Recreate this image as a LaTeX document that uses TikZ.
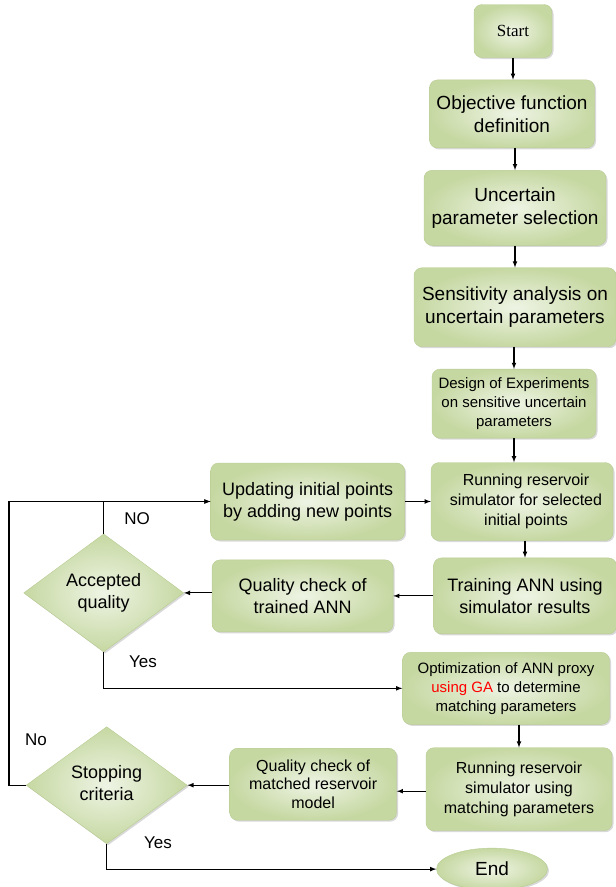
\documentclass[tikz,border=0pt]{standalone}
\usepackage{fontspec}
\setmainfont{Liberation Sans}
\newfontfamily\timesfont{Liberation Serif}
\usepackage{xcolor}
\usepackage{tikz}
\usetikzlibrary{shapes,arrows,positioning,shadows}

\definecolor{boxgreen}{RGB}{198,216,162}
\definecolor{boxlight}{RGB}{238,244,228}
\definecolor{boxline}{RGB}{184,204,146}

\newcommand{\bigtext}{\fontsize{19}{23}\selectfont}
\newcommand{\boxtext}{\fontsize{18}{22}\selectfont}
\newcommand{\midtext}{\fontsize{16}{20}\selectfont}
\newcommand{\smalltext}{\fontsize{15}{19}\selectfont}
\newcommand{\liftedtext}[1]{\raisebox{8pt}{\begin{tabular}{@{}c@{}}#1\end{tabular}}}

\begin{document}
\begin{tikzpicture}[x=1pt,y=-1pt,
		procbox/.style={rectangle, rounded corners=8pt, draw=boxline, inner color=boxlight, outer color=boxgreen, align=center, inner sep=2pt, drop shadow={shadow xshift=1.5pt, shadow yshift=-1.5pt, opacity=0.3}},
		decision/.style={diamond, aspect=1.4, draw=boxline, inner color=boxlight, outer color=boxgreen, align=center, inner sep=0pt, drop shadow={shadow xshift=1.5pt, shadow yshift=-1.5pt, opacity=0.3}},
		terminal/.style={ellipse, draw=boxline, inner color=boxlight, outer color=boxgreen, align=center, inner sep=0pt, drop shadow={shadow xshift=1.5pt, shadow yshift=-1.5pt, opacity=0.3}},
		arr/.style={-latex, line width=1.1pt},
		lbl/.style={font=\fontsize{17}{20}\selectfont}]
				\useasboundingbox (0,0) rectangle (616,887);
				
				% main column
				\node[procbox, minimum width=78pt, minimum height=53pt, font=\timesfont\fontsize{17}{20}\selectfont] (start) at (513,31) {Start};
				\node[procbox, minimum width=165pt, minimum height=68pt, font=\bigtext, below=22pt of start, xshift=-1pt] (objective) {Objective function\\definition};
				\node[procbox, minimum width=182pt, minimum height=75pt, font=\bigtext, below=22pt of objective, xshift=3pt] (uncertain) {Uncertain\\parameter selection};
				\node[procbox, minimum width=202pt, minimum height=79pt, font=\bigtext, below=22pt of uncertain] (sensitivity) {Sensitivity analysis on\\uncertain parameters};
				\node[procbox, minimum width=164pt, minimum height=69pt, font=\smalltext, below=22pt of sensitivity, xshift=-1pt] (doe) {Design of Experiments\\on sensitive uncertain\\parameters};
				\node[procbox, minimum width=182pt, minimum height=78pt, font=\midtext, below=24pt of doe, xshift=8pt] (runinit) {\hspace*{8pt}Running reservoir\\\hspace*{8pt}simulator for selected\\\hspace*{8pt}initial points};
				\node[procbox, minimum width=183pt, minimum height=76pt, font=\boxtext, below=17pt of runinit, xshift=3pt] (training) {Training ANN using\\simulator results};
				\node[procbox, minimum width=207pt, minimum height=72pt, font=\smalltext, below=18pt of training, xshift=-19pt] (optim) {Optimization of ANN proxy\\\textcolor{red}{using GA} to determine\\matching parameters};
				\node[procbox, minimum width=186pt, minimum height=83pt, font=\midtext, below=23pt of optim, xshift=13pt] (runmatch) {Running reservoir\\simulator using\\matching parameters};
				\node[terminal, minimum width=111pt, minimum height=42pt, font=\bigtext, below=17pt of runmatch, xshift=-27pt] (end) {End};
				
				% left side
				\node[procbox, minimum width=194pt, minimum height=77pt, font=\boxtext, left=26pt of runinit] (update) {Updating initial points\\by adding new points};
				\node[procbox, minimum width=181pt, minimum height=72pt, font=\boxtext, left=40pt of training] (qcann) {Quality check of\\trained ANN};
				\node[decision, minimum width=160pt, minimum height=118pt, font=\boxtext, left=28pt of qcann, yshift=3pt] (accepted) {\liftedtext{Accepted\\quality}};
				\node[procbox, minimum width=167pt, minimum height=72pt, font=\fontsize{16}{18.5}\selectfont, left=29pt of runmatch, yshift=5pt] (qcmodel) {Quality check of\\matched reservoir\\model};
				\node[decision, minimum width=161pt, minimum height=117pt, font=\boxtext, left=42pt of qcmodel, yshift=-1pt] (stopping) {\liftedtext{Stopping\\criteria}};
				
				\draw[arr] (start) -- (start |- objective.north);
				\draw[arr] (objective.south -| uncertain) -- (uncertain.north);
				\draw[arr] (uncertain) -- (sensitivity);
				\draw[arr] (sensitivity.south -| doe) -- (doe.north);
				\draw[arr] (doe) -- (doe |- runinit.north);
				\draw[arr] (update) -- (update -| runinit.west);
				\draw[arr] (runinit.south -| training) -- (training.north);
				\draw[arr] (training) -- (training -| qcann.east);
				\draw[arr] (qcann.west |- accepted) -- (accepted.east);
				\draw[arr] (accepted.north) |- (update.west);
				\draw[arr] (accepted.south) |- (optim.west);
				\draw[arr] (optim.south -| runmatch) -- (runmatch.north);
				\draw[arr] ([yshift=-2pt]runmatch.west) -- ([yshift=-2pt]runmatch.west -| qcmodel.east);
				\draw[arr] (qcmodel.west |- stopping) -- (stopping.east);
				\draw[arr] (stopping.west) -- ++(-17,0) coordinate (back) |- (update.west);
				\draw[arr] (stopping.south) |- (end.west);
				
				% branch labels
				\node[lbl] (nolbl1) at (137,519) {NO};
				\node[lbl] (yeslbl1) at (143,662) {Yes};
				\node[lbl] (nolbl2) at (36,740) {No};
				\node[lbl] (yeslbl2) at (158,843) {Yes};
			\end{tikzpicture}
\end{document}
